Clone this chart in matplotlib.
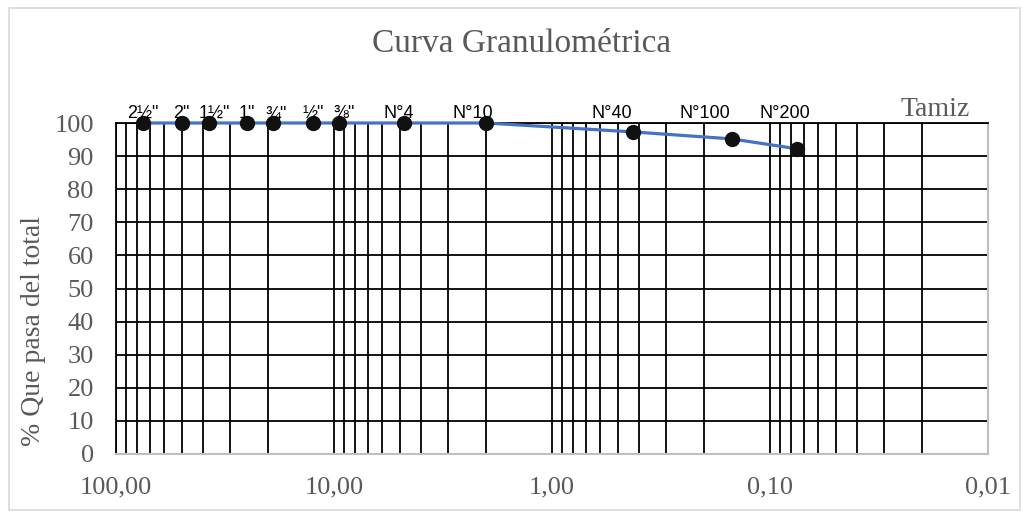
import matplotlib
matplotlib.use('Agg')
import matplotlib.pyplot as plt
from matplotlib.patches import Rectangle
from matplotlib.ticker import FixedLocator, LogLocator, NullFormatter

# Sieve openings (mm) and percent passing
sieves = ['2½"', '2"', '1½"', '1"', '¾"', '½"', '⅜"', 'N°4', 'N°10', 'N°40', 'N°100', 'N°200']
opening_mm = [75.0, 50.0, 37.5, 25.0, 19.0, 12.5, 9.5, 4.75, 2.0, 0.425, 0.15, 0.075]
pct_passing = [100, 100, 100, 100, 100, 100, 100, 100, 100, 97.3, 95.2, 92.2]

x_ticks = [100, 10, 1, 0.1, 0.01]
x_tick_labels = ['100,00', '10,00', '1,00', '0,10', '0,01']
y_ticks = list(range(0, 101, 10))

# horizontal nudge of each sieve label (points)
label_dx = [0, 0, 4, 0, 2, 0, 4, -4, -10, -15, -19, -9]

serif = 'Liberation Serif'
gray = '#595959'

fig = plt.figure(figsize=(10.29, 5.17), dpi=100)
ax = fig.add_axes([116 / 1029, 1 - 454 / 517, (988 - 116) / 1029, (454 - 123) / 517])

ax.set_xscale('log')
ax.set_xlim(100, 0.01)
ax.set_ylim(0, 100)

ax.xaxis.set_major_locator(FixedLocator(x_ticks))
ax.xaxis.set_minor_locator(LogLocator(base=10, subs=range(2, 10), numticks=20))
ax.xaxis.set_minor_formatter(NullFormatter())
ax.set_xticks(x_ticks)
ax.set_xticklabels(x_tick_labels)
ax.set_yticks(y_ticks)

ax.grid(True, which='both', axis='x', color='black', lw=1.3)
ax.grid(True, which='major', axis='y', color='black', lw=1.3)
ax.set_axisbelow(True)

ax.tick_params(which='both', length=0)
ax.tick_params(axis='x', pad=16, labelsize=19, labelcolor=gray)
ax.tick_params(axis='y', pad=16, labelsize=19, labelcolor=gray)
for lbl in ax.get_xticklabels() + ax.get_yticklabels():
    lbl.set_family(serif)

for side in ['left', 'top']:
    ax.spines[side].set_color('black')
    ax.spines[side].set_linewidth(1.3)
for side in ['bottom', 'right']:
    ax.spines[side].set_color('#bfbfbf')
    ax.spines[side].set_linewidth(1.5)

ax.plot(opening_mm, pct_passing, color='#4472C4', lw=2.3, marker='o',
        markersize=10, markerfacecolor='#111111', markeredgecolor='#111111',
        clip_on=False, zorder=5)

for name, x, dx in zip(sieves, opening_mm, label_dx):
    ax.annotate(name, xy=(x, 100), xytext=(dx, 0.5), textcoords='offset points',
                ha='center', va='bottom', fontsize=13,
                family=['Liberation Sans', 'DejaVu Sans'], color='black',
                zorder=6, annotation_clip=False)

ax.set_ylabel('% Que pasa del total', family=serif, fontsize=20, color=gray)
ax.yaxis.set_label_coords(-70 / 872, (454 - 331) / 331)
fig.text(522 / 1029, 1 - 44 / 517, 'Curva Granulométrica', family=serif,
         fontsize=24, color=gray, ha='center', va='center')
fig.text(970 / 1029, 1 - 110 / 517, 'Tamiz', family=serif, fontsize=20,
         color=gray, ha='right', va='center')

# chart border
fig.patches.append(Rectangle((9 / 1029, 7 / 517), 1011 / 1029, 502 / 517,
                             transform=fig.transFigure, fill=False,
                             edgecolor='#d9d9d9', lw=1.2))

fig.savefig('out.png', dpi=100)
